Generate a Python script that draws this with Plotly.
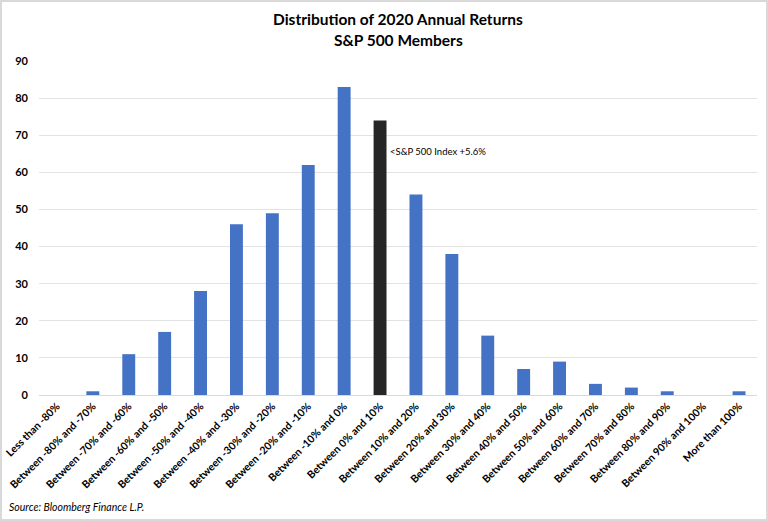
import plotly.graph_objects as go

categories = ["Less than -80%", "Between -80% and -70%", "Between -70% and -60%",
              "Between -60% and -50%", "Between -50% and -40%", "Between -40% and -30%",
              "Between -30% and -20%", "Between -20% and -10%", "Between -10% and 0%",
              "Between 0% and 10%", "Between 10% and 20%", "Between 20% and 30%",
              "Between 30% and 40%", "Between 40% and 50%", "Between 50% and 60%",
              "Between 60% and 70%", "Between 70% and 80%", "Between 80% and 90%",
              "Between 90% and 100%", "More than 100%"]
counts = [0, 1, 11, 17, 28, 46, 49, 62, 83, 74, 54, 38, 16, 7, 9, 3, 2, 1, 0, 1]
highlight = "Between 0% and 10%"
y_ticks = [0, 10, 20, 30, 40, 50, 60, 70, 80, 90]
title_lines = ["Distribution of 2020 Annual Returns", "S&P 500 Members"]

colors = ["#262626" if c == highlight else "#4472C4" for c in categories]

font_family = "Lato, 'Open Sans', sans-serif"

W, H = 768, 521
ML, MR, MT, MB = 39, 11, 61, 126
PW, PH = W - ML - MR, H - MT - MB


def py(pixel_y):
    """convert a pixel row of the page to paper coordinate"""
    return (H - MB - pixel_y) / PH


def px(pixel_x):
    return (pixel_x - ML) / PW


fig = go.Figure(go.Bar(x=categories, y=counts, marker_color=colors,
                       marker_line_width=0, hoverinfo="x+y"))

fig.update_layout(
    width=W, height=H,
    paper_bgcolor="white", plot_bgcolor="white",
    margin=dict(l=ML, r=MR, t=MT, b=MB, autoexpand=False),
    bargap=0.64,
    showlegend=False,
    font=dict(family=font_family, color="black"),
)
fig.update_xaxes(tickangle=-45, tickfont=dict(size=10.5, family=font_family, color="black"),
                 showgrid=False, showline=True, linecolor="#D9D9D9", linewidth=1,
                 ticks="", categoryorder="array", categoryarray=categories,
                 tickvals=categories, ticktext=[f"<b>{c}</b>" for c in categories],
                 automargin=False)
fig.update_yaxes(range=[0, 90], tickvals=y_ticks, ticktext=[f"<b>{v}</b>" for v in y_ticks],
                 tickfont=dict(size=11, family=font_family, color="black"),
                 showgrid=True, gridcolor="#E3E3E3", gridwidth=1,
                 zeroline=False, showline=False, ticks="", ticklabelstandoff=10,
                 automargin=False)

for line, ypix in zip(title_lines, [19, 40]):
    fig.add_annotation(x=0.5, y=py(ypix), xref="paper", yref="paper",
                       xanchor="center", yanchor="middle", showarrow=False,
                       text=f"<b>{line}</b>",
                       font=dict(family=font_family, size=15.5, color="black"))

idx = categories.index(highlight)
fig.add_annotation(x=idx, y=65.5, xref="x", yref="y",
                   text="<S&P 500 Index +5.6%", showarrow=False,
                   xanchor="left", yanchor="middle", xshift=8,
                   font=dict(size=9.5, family=font_family, color="black"))

fig.add_annotation(x=px(7), y=py(507), xref="paper", yref="paper",
                   text="<i>Source: Bloomberg Finance L.P.</i>", showarrow=False,
                   xanchor="left", yanchor="middle",
                   font=dict(size=10.5, family=font_family, color="black"))

fig.add_shape(type="rect", xref="paper", yref="paper",
              x0=px(1), x1=px(W - 1), y0=py(H - 1), y1=py(1),
              line=dict(color="#D9D9D9", width=2), layer="below")

fig.write_html("out.html", config={"displayModeBar": False},
               post_script="document.body.style.margin='0';")
